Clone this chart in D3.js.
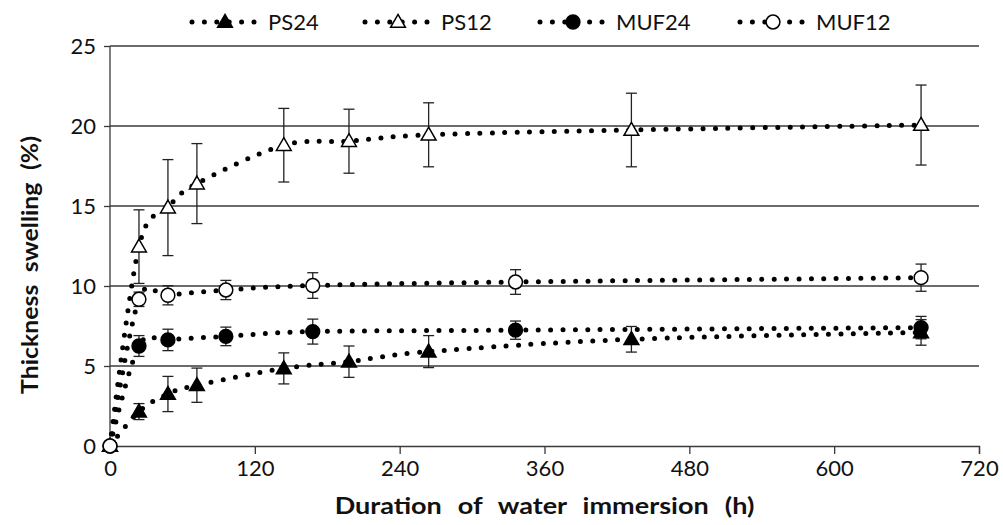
<!DOCTYPE html>
<html>
<head>
<meta charset="utf-8">
<script src="https://cdn.jsdelivr.net/npm/d3@7"></script>
<style>
  body { margin: 0; background: #fff; }
  text { font-family: Lato, "Open Sans", sans-serif; fill: #111; }
</style>
</head>
<body>
<div id="chart"></div>
<script>
// thickness swelling over water immersion time
const hoursPS = [0, 24, 48, 72, 144, 198, 264, 432, 672];
const ps24 = [0, 2.15, 3.25, 3.8, 4.85, 5.27, 5.9, 6.67, 7.1];
const ps24Err = [0, 0.5, 1.1, 1.07, 0.97, 0.98, 1.0, 0.8, 0.8];
const ps12 = [0, 12.46, 14.9, 16.4, 18.8, 19.05, 19.45, 19.75, 20.06];
const ps12Err = [0, 2.3, 3.0, 2.5, 2.3, 2.0, 2.0, 2.3, 2.5];

const hoursMUF = [0, 24, 48, 96, 168, 336, 672];
const muf24 = [0, 6.25, 6.63, 6.85, 7.15, 7.24, 7.4];
const muf24Err = [0, 0.65, 0.67, 0.58, 0.78, 0.57, 0.7];
const muf12 = [0, 9.17, 9.42, 9.75, 10.03, 10.25, 10.52];
const muf12Err = [0, 0.45, 0.6, 0.6, 0.8, 0.77, 0.85];

const xTicks = [0, 120, 240, 360, 480, 600, 720];
const yTicks = [0, 5, 10, 15, 20, 25];

const series = [
  { name: "PS24", hours: hoursPS, values: ps24, err: ps24Err, shape: "triangle", filled: true },
  { name: "PS12", hours: hoursPS, values: ps12, err: ps12Err, shape: "triangle", filled: false },
  { name: "MUF24", hours: hoursMUF, values: muf24, err: muf24Err, shape: "circle", filled: true },
  { name: "MUF12", hours: hoursMUF, values: muf12, err: muf12Err, shape: "circle", filled: false }
];

const width = 1003, height = 525;
const margin = { top: 46, right: 24, bottom: 79, left: 110 };
const w = width - margin.left - margin.right;
const h = height - margin.top - margin.bottom;

const svg = d3.select("#chart").append("svg")
  .attr("width", width)
  .attr("height", height);

const g = svg.append("g")
  .attr("transform", `translate(${margin.left},${margin.top})`);

const x = d3.scaleLinear().domain([0, 720]).range([0, w]);
const y = d3.scaleLinear().domain([0, 25]).range([h, 0]);

// gridlines
g.selectAll(".grid")
  .data(yTicks.filter(d => d > 0))
  .enter().append("line")
  .attr("x1", 0).attr("x2", w)
  .attr("y1", d => y(d)).attr("y2", d => y(d))
  .attr("stroke", "#3a3a3a")
  .attr("stroke-width", 1.3);

// axes
const xAxis = g.append("g")
  .attr("transform", `translate(0,${h})`)
  .call(d3.axisBottom(x).tickValues(xTicks).tickSize(8).tickPadding(6));
const yAxis = g.append("g")
  .call(d3.axisLeft(y).tickValues(yTicks).tickSize(6).tickPadding(8));

[xAxis, yAxis].forEach(a => {
  a.selectAll("path, line").attr("stroke", "#3a3a3a").attr("stroke-width", 1.3);
  a.selectAll("text").style("font-size", "22px").attr("fill", "#111");
});
yAxis.select(".domain").attr("d", `M0,${h}V0`);

// axis titles - the source picture is stretched, so widen the text to fit
function title(txt, pos, len, size, spacing) {
  const t = svg.append("text")
    .attr("text-anchor", "middle")
    .style("font-size", size + "px")
    .style("font-weight", "bold")
    .style("word-spacing", spacing + "px")
    .text(txt);
  const k = len / t.node().getComputedTextLength();
  t.attr("transform", `${pos} scale(${k},1)`);
}
title("Duration of water immersion (h)", `translate(${margin.left + w / 2},514)`, 420, 23, 8);
title("Thickness swelling (%)", "translate(38,265) rotate(-90)", 258, 23, 6);

const line = d3.line()
  .x(d => x(d[0]))
  .y(d => y(d[1]))
  .curve(d3.curveCatmullRom.alpha(0));

const dotted = sel => sel
  .attr("fill", "none")
  .attr("stroke", "#000")
  .attr("stroke-width", 5)
  .attr("stroke-linecap", "round")
  .attr("stroke-dasharray", "0 12.4");

const tri = d3.symbol().type(d3.symbolTriangle).size(95);
const circ = d3.symbol().type(d3.symbolCircle).size(150);

function drawMarker(sel, s) {
  sel.attr("d", s.shape === "triangle" ? tri() : circ())
    .attr("fill", s.filled ? "#000" : "#fff")
    .attr("stroke", "#000")
    .attr("stroke-width", 1.5);
}

// trend lines
series.forEach(s => {
  g.append("path")
    .datum(s.hours.map((t, i) => [t, s.values[i]]))
    .attr("d", line)
    .call(dotted);
});

// error bars
series.forEach(s => {
  const pts = s.hours.map((t, i) => ({ t, v: s.values[i], e: s.err[i] })).filter(d => d.e > 0);
  const eb = g.append("g").attr("stroke", "#222").attr("stroke-width", 1.3);
  eb.selectAll(".v").data(pts).enter().append("line")
    .attr("x1", d => x(d.t)).attr("x2", d => x(d.t))
    .attr("y1", d => y(d.v - d.e)).attr("y2", d => y(d.v + d.e));
  [-1, 1].forEach(k => {
    eb.selectAll(".c" + k).data(pts).enter().append("line")
      .attr("x1", d => x(d.t) - 5.5).attr("x2", d => x(d.t) + 5.5)
      .attr("y1", d => y(d.v + k * d.e)).attr("y2", d => y(d.v + k * d.e));
  });
});

// markers
series.forEach(s => {
  g.selectAll(".m-" + s.name)
    .data(s.hours.map((t, i) => [t, s.values[i]]))
    .enter().append("path")
    .attr("transform", d => `translate(${x(d[0])},${y(d[1]) + (s.shape === "triangle" ? 1 : 0)})`)
    .call(drawMarker, s);
});

// legend
const legendX = [192, 365, 540, 740];
series.forEach((s, i) => {
  const lg = svg.append("g").attr("transform", `translate(${legendX[i]},22)`);
  lg.append("path").attr("d", "M0,0H63").call(dotted);
  lg.append("path")
    .attr("transform", `translate(33,${s.shape === "triangle" ? 1 : 0})`)
    .call(drawMarker, s);
  lg.append("text")
    .attr("x", 76)
    .attr("dy", "0.35em")
    .style("font-size", "22px")
    .text(s.name);
});
</script>
</body>
</html>
